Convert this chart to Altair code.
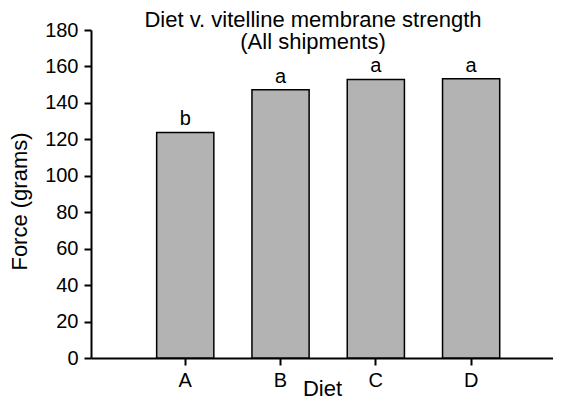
import altair as alt
import pandas as pd

diets = ["A", "B", "C", "D"]
force = [123.8, 147.2, 152.9, 153.2]
letters = ["b", "a", "a", "a"]
y_ticks = [0, 20, 40, 60, 80, 100, 120, 140, 160, 180]

df = pd.DataFrame({"Diet": diets, "Force": force, "Letter": letters})

FONT = "Liberation Sans"

x = alt.X(
    "Diet:N",
    title="Diet",
    sort=diets,
    scale=alt.Scale(paddingInner=0.4, paddingOuter=0.624, align=0.552),
    axis=alt.Axis(
        labelAngle=0,
        labelPadding=5,
        titleBaseline="alphabetic",
        titleY=37,
        titleFontSize=22,
    ),
)
y = alt.Y(
    "Force:Q",
    title="Force (grams)",
    scale=alt.Scale(domain=[0, 180], nice=False),
    axis=alt.Axis(
        values=y_ticks,
        labelPadding=6,
        titleBaseline="alphabetic",
        titleX=-65,
        titleY=171,
        titleAngle=270,
        titleFontSize=22,
    ),
)

bars = alt.Chart(df).mark_bar(
    fill="#b3b3b3", stroke="black", strokeWidth=1.5
).encode(x=x, y=y)

labels = alt.Chart(df).mark_text(
    baseline="alphabetic", dy=-7, fontSize=20, font=FONT, color="black"
).encode(x=x, y=y, text="Letter:N")

chart = (
    alt.layer(bars, labels)
    .properties(
        width=462,
        height=328,
        autosize=alt.AutoSizeParams(type="none"),
        padding={"left": 83, "top": 22, "right": 0, "bottom": 42},
        title=alt.TitleParams(
            text=["Diet v. vitelline membrane strength", "(All shipments)"],
            font=FONT,
            fontSize=22,
            fontWeight="normal",
            lineHeight=22.5,
            anchor="middle",
            dx=-9,
            offset=-34,
            color="black",
        ),
    )
    .configure_view(stroke=None)
    .configure_axis(
        grid=False,
        domainColor="black",
        domainWidth=2,
        tickColor="black",
        tickWidth=2,
        tickSize=7,
        labelFont=FONT,
        labelFontSize=20,
        labelColor="black",
        titleFont=FONT,
        titleFontSize=22,
        titleFontWeight="normal",
        titleColor="black",
    )
)

chart.save("out.html", embed_options={"renderer": "svg", "actions": False})
